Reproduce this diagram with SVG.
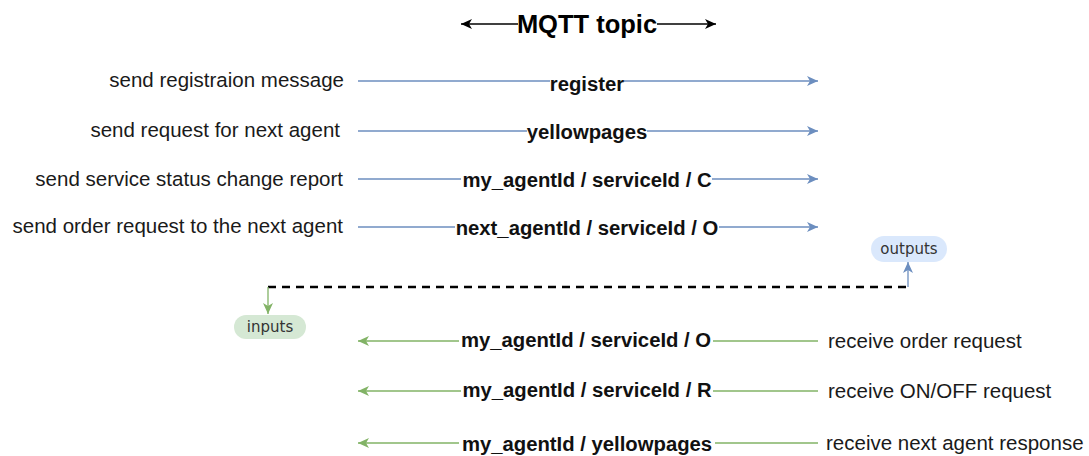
<svg xmlns="http://www.w3.org/2000/svg" width="1089" height="456" viewBox="0 0 1089 456">
  <style>
    .desc { font-family: "Liberation Sans", Arial, sans-serif; font-size: 20.5px; fill: #1a1a1a; }
    .topic { font-family: "Liberation Sans", Arial, sans-serif; font-size: 20.3px; font-weight: bold; fill: #111; text-anchor: middle; }
    .title { font-family: "Liberation Sans", Arial, sans-serif; font-size: 25.5px; font-weight: bold; fill: #000; text-anchor: middle; }
    .pill-text { font-family: "DejaVu Sans", sans-serif; font-size: 15px; fill: #333; text-anchor: middle; }
    .out { stroke: #6c8ebf; stroke-width: 1.3; fill: none; }
    .in { stroke: #82b366; stroke-width: 1.3; fill: none; }
    .lbl-bg { fill: #ffffff; }
  </style>
  <defs>
    <marker id="arrBlue" markerWidth="12" markerHeight="10" refX="11" refY="5" orient="auto" markerUnits="userSpaceOnUse">
      <path d="M0,0 L11,5 L0,10 L3,5 Z" fill="#6c8ebf"/>
    </marker>
    <marker id="arrGreen" markerWidth="12" markerHeight="10" refX="11" refY="5" orient="auto" markerUnits="userSpaceOnUse">
      <path d="M0,0 L11,5 L0,10 L3,5 Z" fill="#82b366"/>
    </marker>
    <marker id="arrBlack" markerWidth="12" markerHeight="10" refX="11" refY="5" orient="auto" markerUnits="userSpaceOnUse">
      <path d="M0,0 L11,5 L0,10 L3,5 Z" fill="#000"/>
    </marker>
  </defs>

  <!-- heading with two-way arrow -->
  <g id="title">
    <line x1="518" y1="24" x2="461" y2="24" stroke="#000" stroke-width="1.5" marker-end="url(#arrBlack)"/>
    <line x1="657" y1="24" x2="716" y2="24" stroke="#000" stroke-width="1.5" marker-end="url(#arrBlack)"/>
    <text class="title" x="587" y="33">MQTT topic</text>
  </g>

  <!-- connectors -->
  <g id="connectors">
    <line class="out" x1="358" y1="81" x2="818" y2="81" marker-end="url(#arrBlue)"/>
    <line class="out" x1="358" y1="131" x2="818" y2="131" marker-end="url(#arrBlue)"/>
    <line class="out" x1="358" y1="179" x2="818" y2="179" marker-end="url(#arrBlue)"/>
    <line class="out" x1="358" y1="227" x2="818" y2="227" marker-end="url(#arrBlue)"/>

    <path d="M268,287 L908,287" stroke="#000" stroke-width="2.5" stroke-dasharray="8,6" fill="none"/>
    <line class="out" x1="908" y1="287" x2="908" y2="262" stroke-width="1.5" marker-end="url(#arrBlue)"/>
    <line class="in" x1="268" y1="287" x2="268" y2="314" stroke-width="1.5" marker-end="url(#arrGreen)"/>

    <line class="in" x1="818" y1="341" x2="358" y2="341" marker-end="url(#arrGreen)"/>
    <line class="in" x1="818" y1="391" x2="358" y2="391" marker-end="url(#arrGreen)"/>
    <line class="in" x1="818" y1="443" x2="358" y2="443" marker-end="url(#arrGreen)"/>
  </g>

  <!-- outgoing topics -->
  <g id="topic-register">
    <rect class="lbl-bg" x="550" y="73" width="74" height="16"/>
    <text class="topic" x="587" y="91">register</text>
  </g>
  <g id="topic-yellowpages">
    <rect class="lbl-bg" x="527" y="123" width="120" height="16"/>
    <text class="topic" x="587" y="139">yellowpages</text>
  </g>
  <g id="topic-status">
    <rect class="lbl-bg" x="461" y="171" width="251" height="16"/>
    <text class="topic" x="587" y="187">my_agentId / serviceId / C</text>
  </g>
  <g id="topic-order-out">
    <rect class="lbl-bg" x="455" y="219" width="264" height="16"/>
    <text class="topic" x="587" y="235">next_agentId / serviceId / O</text>
  </g>

  <!-- incoming topics -->
  <g id="topic-order-in">
    <rect class="lbl-bg" x="459" y="333" width="254" height="16"/>
    <text class="topic" x="586" y="347">my_agentId / serviceId / O</text>
  </g>
  <g id="topic-onoff">
    <rect class="lbl-bg" x="461" y="383" width="252" height="16"/>
    <text class="topic" x="587" y="397">my_agentId / serviceId / R</text>
  </g>
  <g id="topic-response">
    <rect class="lbl-bg" x="459" y="435" width="256" height="16"/>
    <text class="topic" x="587" y="451">my_agentId / yellowpages</text>
  </g>

  <!-- sender descriptions -->
  <g id="desc-register"><text class="desc" x="344" y="87" text-anchor="end">send registraion message</text></g>
  <g id="desc-next"><text class="desc" x="340" y="137" text-anchor="end">send request for next agent</text></g>
  <g id="desc-status"><text class="desc" x="343" y="186" text-anchor="end">send service status change report</text></g>
  <g id="desc-order"><text class="desc" x="343" y="233" text-anchor="end">send order request to the next agent</text></g>

  <!-- receiver descriptions -->
  <g id="desc-recv-order"><text class="desc" x="828" y="348">receive order request</text></g>
  <g id="desc-recv-onoff"><text class="desc" x="828" y="398">receive ON/OFF request</text></g>
  <g id="desc-recv-response"><text class="desc" x="826" y="450">receive next agent response</text></g>

  <!-- direction badges -->
  <g id="outputs">
    <rect x="871" y="236" width="76" height="26" rx="13" fill="#dae8fc"/>
    <text class="pill-text" x="909" y="254">outputs</text>
  </g>
  <g id="inputs">
    <rect x="234" y="315" width="72" height="24" rx="12" fill="#d5e8d4"/>
    <text class="pill-text" x="270" y="332">inputs</text>
  </g>
</svg>
